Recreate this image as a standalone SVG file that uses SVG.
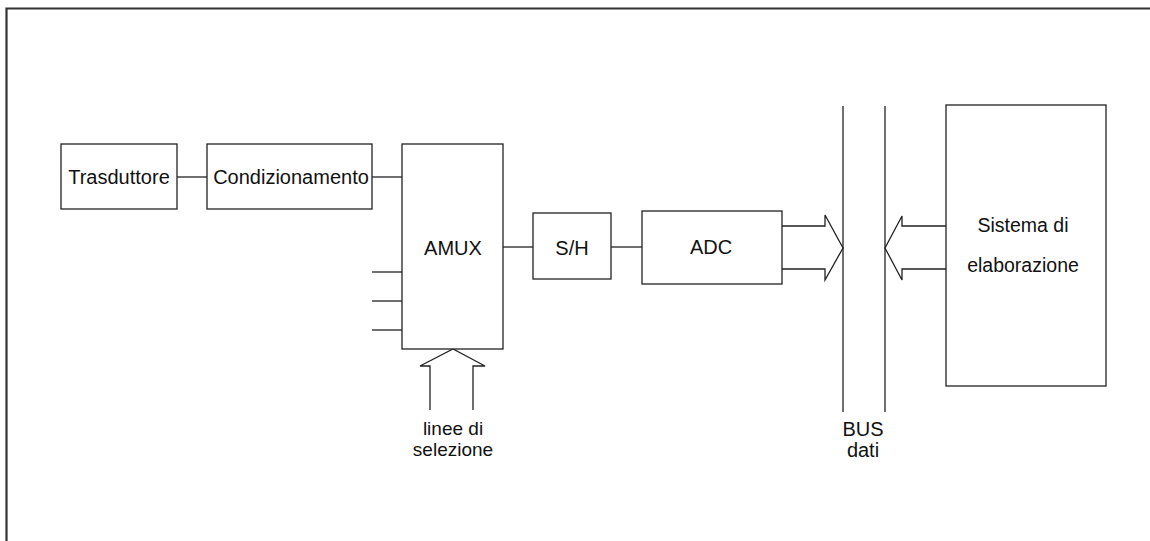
<svg xmlns="http://www.w3.org/2000/svg" width="1150" height="541" viewBox="0 0 1150 541">
<style>
.box{fill:#fff;stroke:#222;stroke-width:1.3}
.ln{fill:none;stroke:#222;stroke-width:1.3}
.frame{fill:none;stroke:#333;stroke-width:2.2}
text{font-family:"Liberation Sans",Arial,sans-serif;font-size:20px;fill:#111;text-anchor:middle}
</style>
<rect width="1150" height="541" fill="#fff"/>
<path class="frame" d="M6.5,541 V8.5 H1150"/>
<g id="connectors">
<line class="ln" x1="177" y1="177" x2="207" y2="177"/>
<line class="ln" x1="372" y1="177" x2="402" y2="177"/>
<line class="ln" x1="503" y1="247" x2="533" y2="247"/>
<line class="ln" x1="611" y1="247" x2="642" y2="247"/>
<line class="ln" x1="372" y1="272" x2="402" y2="272"/>
<line class="ln" x1="372" y1="301" x2="402" y2="301"/>
<line class="ln" x1="372" y1="330" x2="402" y2="330"/>
<path class="ln" d="M430,410 V366 H420 L453,349 L485,366 H473 V410"/>
<path class="ln" d="M782,226 H825 V215 L843,248 L825,280 V269 H782"/>
<path class="ln" d="M946,226 H902 V216 L885,248 L902,280 V269 H946"/>
</g>
<g id="bus">
<line class="ln" x1="843" y1="106" x2="843" y2="412"/>
<line class="ln" x1="885" y1="106" x2="885" y2="412"/>
<text x="863" y="436">BUS</text>
<text x="863" y="457">dati</text>
</g>
<g id="trasduttore">
<rect class="box" x="61" y="144" width="116" height="65"/>
<text x="119" y="184">Trasduttore</text>
</g>
<g id="condizionamento">
<rect class="box" x="207" y="144" width="165" height="65"/>
<text x="291" y="184">Condizionamento</text>
</g>
<g id="amux">
<rect class="box" x="402" y="144" width="101" height="205"/>
<text x="453" y="255">AMUX</text>
</g>
<g id="sh">
<rect class="box" x="533" y="213" width="78" height="66"/>
<text x="572" y="255">S/H</text>
</g>
<g id="adc">
<rect class="box" x="642" y="211" width="140" height="73"/>
<text x="711" y="254">ADC</text>
</g>
<g id="sistema">
<rect class="box" x="946" y="105" width="160" height="281"/>
<text x="1023" y="232" style="font-size:19.5px">Sistema di</text>
<text x="1023" y="272" style="font-size:19.5px">elaborazione</text>
</g>
<g id="selezione-label">
<text x="453" y="435" style="font-size:19px">linee di</text>
<text x="453" y="456" style="font-size:19px">selezione</text>
</g>
</svg>
